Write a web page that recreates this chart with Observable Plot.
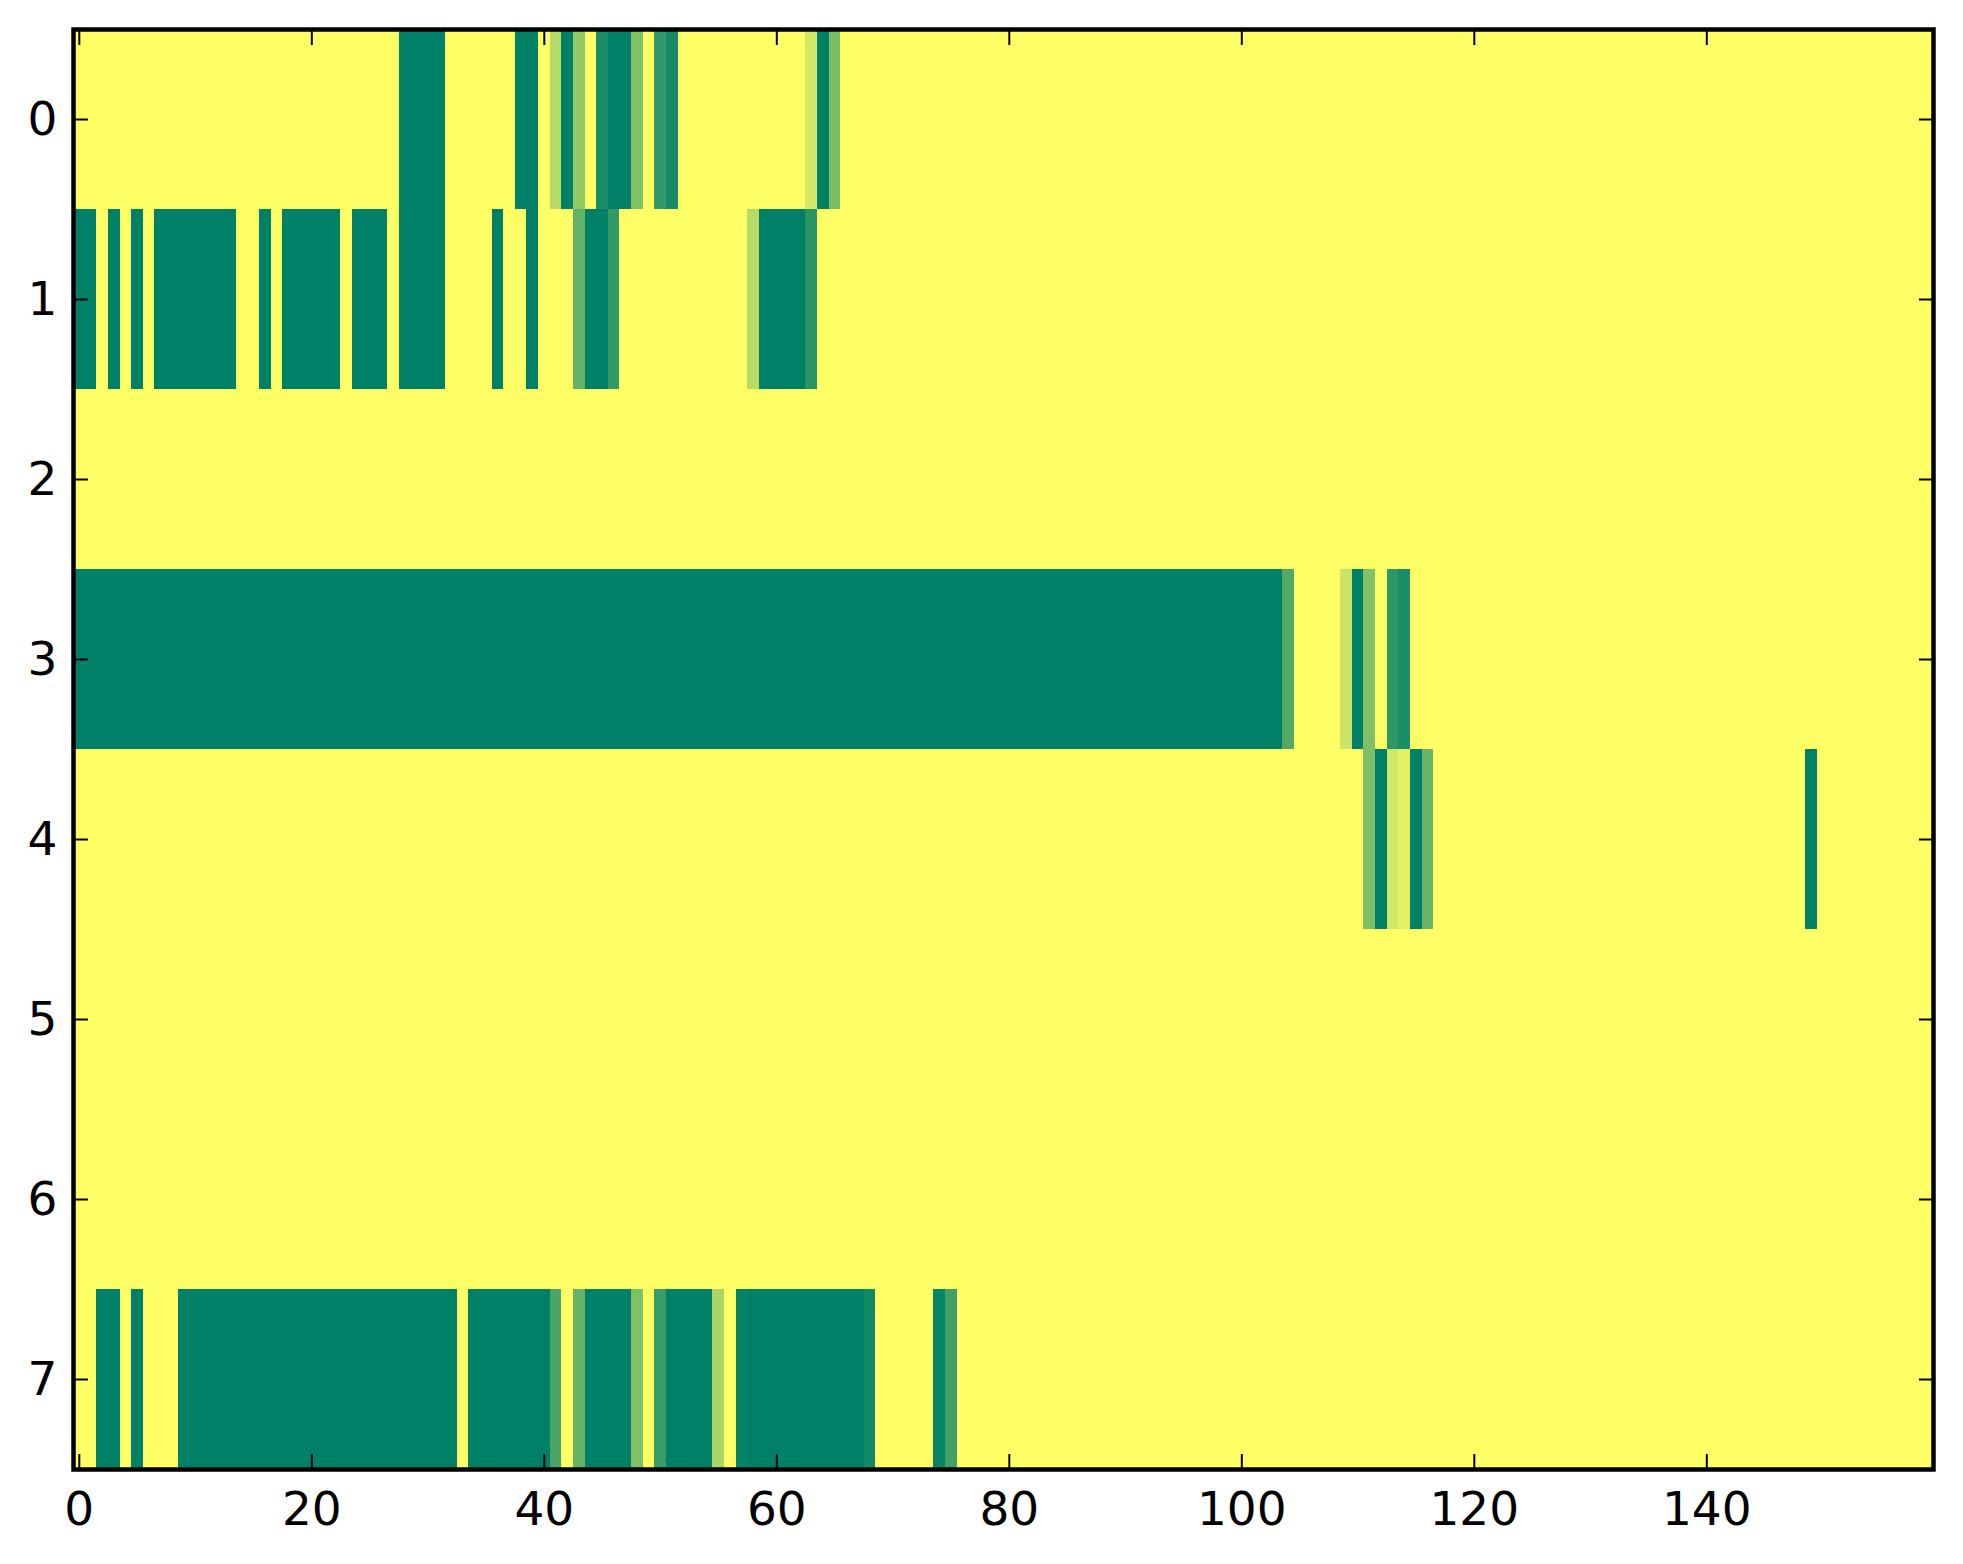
<!DOCTYPE html>
<html>
<head>
<meta charset="utf-8">
<script src="https://cdn.jsdelivr.net/npm/d3@7"></script>
<script src="https://cdn.jsdelivr.net/npm/@observablehq/plot@0.6"></script>
<style>
  html, body { margin: 0; padding: 0; background: #ffffff; }
  #chart { width: 1963px; height: 1564px; }
</style>
</head>
<body>
<div id="chart"></div>
<script>
// ---- data ----
const nCols = 160;
const rowIds = [0, 1, 2, 3, 4, 5, 6, 7];
const xTicks = [0, 20, 40, 60, 80, 100, 120, 140];
const yTicks = [0, 1, 2, 3, 4, 5, 6, 7];
const background = 1; // value of the (yellow) cells not listed below

// runs per row: [firstCol, lastCol, value]
const row0 = [[28,31,0],[38,39,0],[41,41,0.71],[42,42,0],[43,43,0.58],[45,45,0.1],[46,47,0],[48,48,0.5],[50,50,0.2],[51,51,0.08],[63,63,0.83],[64,64,0],[65,65,0.47]];
const row1 = [[0,1,0],[3,3,0],[5,5,0],[7,13,0],[16,16,0],[18,22,0],[24,26,0],[28,31,0],[36,36,0],[39,39,0],[43,43,0.39],[44,45,0],[46,46,0.2],[58,58,0.72],[59,62,0],[63,63,0.16]];
const row2 = [];
const row3 = [[0,103,0],[104,104,0.32],[109,109,0.79],[110,110,0],[111,111,0.5],[113,113,0.18],[114,114,0.1]];
const row4 = [[111,111,0.49],[112,112,0],[113,113,0.82],[114,114,0.89],[115,115,0],[116,116,0.41],[149,149,0]];
const row5 = [];
const row6 = [];
const row7 = [[2,3,0],[5,5,0],[9,32,0],[34,40,0],[41,41,0.29],[43,43,0.4],[44,47,0],[48,48,0.5],[50,50,0.22],[51,54,0],[55,55,0.67],[57,57,0.02],[58,67,0],[68,68,0.07],[74,74,0.03],[75,75,0.25]];
const rowRuns = [row0, row1, row2, row3, row4, row5, row6, row7];

// build the full grid
const cells = [];
rowIds.forEach((r) => {
  const vals = new Array(nCols).fill(background);
  rowRuns[r].forEach(([a, b, v]) => { for (let c = a; c <= b; c++) vals[c] = v; });
  vals.forEach((v, c) => cells.push({row: r, col: c, value: v}));
});

const font = "DejaVu Sans, Liberation Sans, sans-serif";
const fs = 47;

const chart = Plot.plot({
  width: 1963,
  height: 1564,
  marginLeft: 73,
  marginRight: 30,
  marginTop: 29,
  marginBottom: 95,
  style: {fontFamily: font, fontSize: fs + "px", background: "#ffffff", color: "#000"},
  x: {type: "band", domain: d3.range(nCols), padding: 0, label: null, axis: null},
  y: {type: "band", domain: rowIds, padding: 0, label: null, axis: null},
  color: {type: "linear", domain: [0, 1], range: ["#008066", "#ffff66"], interpolate: "rgb"},
  marks: [
    Plot.cell(cells, {x: "col", y: "row", fill: "value", inset: 0, shapeRendering: "crispEdges"}),
    // tick labels
    Plot.axisX(xTicks, {anchor: "bottom", tickSize: 0, tickPadding: 22, fontSize: fs, label: null}),
    Plot.axisY(yTicks, {anchor: "left", tickSize: 0, tickPadding: 16, fontSize: fs, label: null}),
    // inward tick marks on all four sides
    Plot.axisX(xTicks, {anchor: "bottom", tickSize: -15, strokeWidth: 2, tickFormat: () => "", label: null}),
    Plot.axisX(xTicks, {anchor: "top", tickSize: -15, strokeWidth: 2, tickFormat: () => "", label: null}),
    Plot.axisY(yTicks, {anchor: "left", tickSize: -15, strokeWidth: 2, tickFormat: () => "", label: null}),
    Plot.axisY(yTicks, {anchor: "right", tickSize: -15, strokeWidth: 2, tickFormat: () => "", label: null}),
    Plot.frame({stroke: "#000", strokeWidth: 4.5})
  ]
});
document.getElementById("chart").appendChild(chart);
</script>
</body>
</html>
